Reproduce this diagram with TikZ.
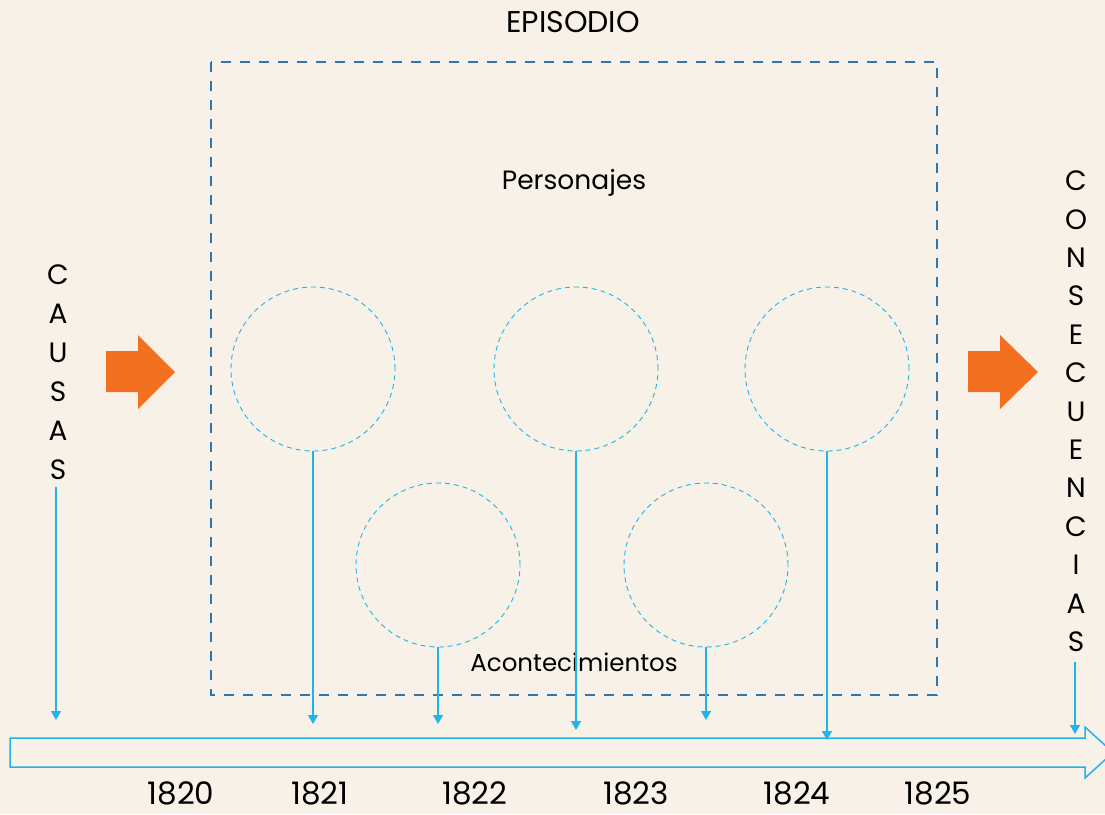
\documentclass[tikz,border=0pt]{standalone}
\usepackage{fontspec}
\setmainfont{Poppins}
\usetikzlibrary{arrows.meta}
\definecolor{bg}{HTML}{F8F1E7}
\definecolor{dblue}{HTML}{2E75B6}
\definecolor{lblue}{HTML}{1FB4EC}
\definecolor{orng}{HTML}{F37021}
\tikzset{
  lbl/.style={text=black, inner sep=0pt},
  yr/.style={font=\fontsize{31}{31}\selectfont, text=black, inner sep=0pt},
  vlet/.style={font=\fontsize{28}{28}\selectfont, text=black, inner sep=0pt},
  circ/.style={circle, draw=lblue, dash pattern=on 5pt off 4pt, line width=0.9pt, minimum size=164pt, inner sep=0pt},
  conn/.style={draw=lblue, line width=1.3pt, -{Triangle[width=10pt,length=9pt]}},
  bigarrow/.style={fill=orng, draw=none}
}
\begin{document}
\begin{tikzpicture}[x=1pt,y=-1pt]
\useasboundingbox[fill=bg] (0,0) rectangle (1105,814);
\begin{scope}
\clip (0,0) rectangle (1105,814);
% title
\node[lbl, font=\fontsize{30}{30}\selectfont] (title) at (573,22) {EPISODIO};
% dashed box
\draw[dblue, line width=1.6pt, dash pattern=on 10pt off 9pt] (211,62) rectangle (937,695);
\node[lbl, font=\fontsize{26.5}{26.5}\selectfont] (pers) at (574,183) {Personajes};
\node[lbl, font=\fontsize{24.5}{24.5}\selectfont] (acon) at (574,662) {Acontecimientos};
% circles
\node[circ] (c1) at (313,369) {};
\node[circ] (c2) at (576,369) {};
\node[circ] (c3) at (827,369) {};
\node[circ] (c4) at (438,565) {};
\node[circ] (c5) at (706,565) {};
% vertical labels
\foreach \l [count=\i from 0] in {C,A,U,S,A,S}
  \node[vlet] (ca\i) at (58,{275+39*\i}) {\l};
\foreach \l [count=\i from 0] in {C,O,N,S,E,C,U,E,N,C,I,A,S}
  \node[vlet] (co\i) at (1076,{181+38.4*\i}) {\l};
% coordinates for arrow ends
\coordinate (s0) at (56,487);
\coordinate (s6) at (1075,662);
\coordinate (e0) at (56,720);
\coordinate (e1) at (313,724);
\coordinate (e2) at (438,724);
\coordinate (e3) at (576,730);
\coordinate (e4) at (706,720);
\coordinate (e5) at (827,740);
\coordinate (e6) at (1075,734);
\draw[conn] (s0) -- (e0);
\draw[conn] (c1.south) -- (e1);
\draw[conn] (c4.south) -- (e2);
\draw[conn] (c2.south) -- (e3);
\draw[conn] (c5.south) -- (e4);
\draw[conn] (c3.south) -- (e5);
\draw[conn] (s6) -- (e6);
% big hollow arrow
\draw[lblue, line width=1.5pt, line join=miter] (10,738) -- (1085,738) -- (1085,727) -- (1113,752.5) -- (1085,778) -- (1085,767) -- (10,767) -- cycle;
% orange arrows
\fill[bigarrow] (106,351) -- (138,351) -- (138,335) -- (175,372) -- (138,409) -- (138,392) -- (106,392) -- cycle;
\fill[bigarrow] (968,351) -- (1000,351) -- (1000,335) -- (1038,372) -- (1000,409) -- (1000,392) -- (968,392) -- cycle;
% years
\node[yr] (y0) at (181,793) {1820};
\node[yr] (y1) at (320,793) {1821};
\node[yr] (y2) at (475,793) {1822};
\node[yr] (y3) at (636,793) {1823};
\node[yr] (y4) at (797,793) {1824};
\node[yr] (y5) at (938,793) {1825};
\end{scope}
\end{tikzpicture}
\end{document}
